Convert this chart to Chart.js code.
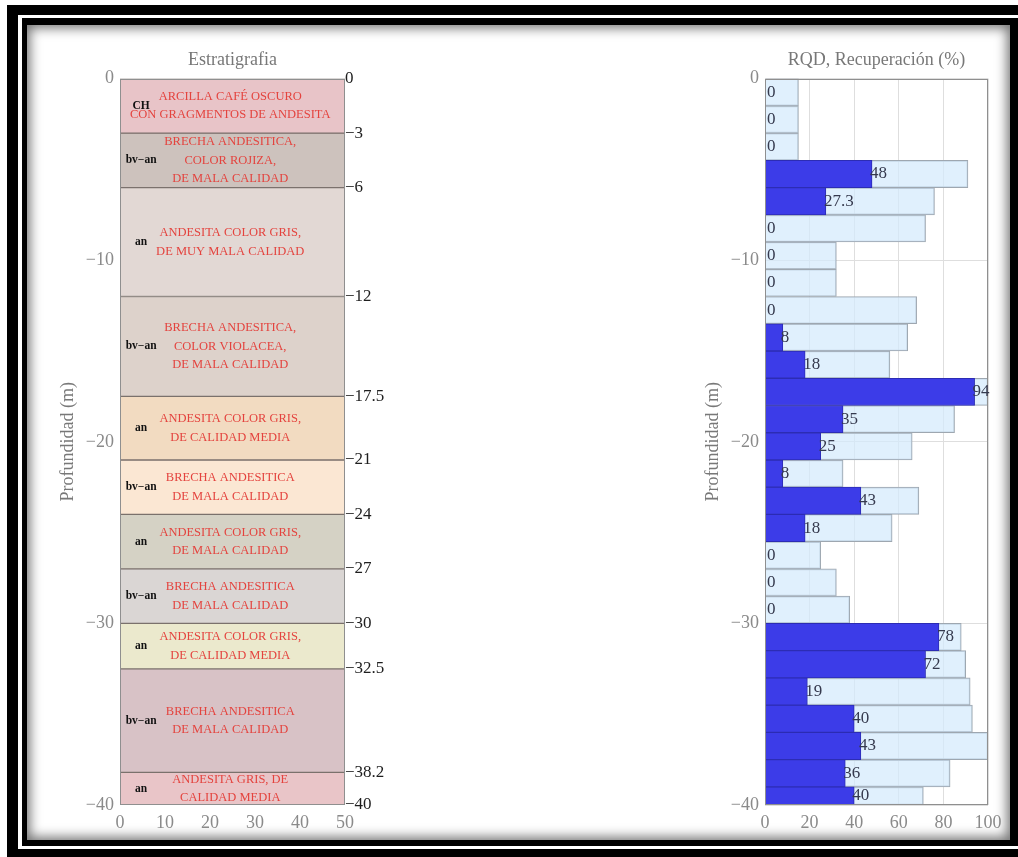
<!DOCTYPE html>
<html>
<head>
<meta charset="utf-8">
<title>Estratigrafia y RQD</title>
<script src="https://cdn.jsdelivr.net/npm/chart.js@4/dist/chart.umd.min.js"></script>
<style>
  html, body { margin: 0; padding: 0; width: 1018px; height: 857px; overflow: hidden; background: #fff; }
  .box { position: absolute; }
  #f1 { left: 7px;  top: 5px;  width: 1011px; height: 852px; background: #000; }
  #f2 { left: 18px; top: 15px; width: 1010px; height: 834px; background: #fff; }
  #f3 { left: 22px; top: 18px; width: 1000px; height: 828px; background: #000; }
  #f4 { left: 27px; top: 25px; width: 983px;  height: 815px; background: #fff;
        box-shadow: inset 0 0 12px 3px rgba(0,0,0,0.55); }
  canvas { position: absolute; left: 0; top: 0; }
</style>
</head>
<body>
<div class="box" id="f1"></div>
<div class="box" id="f2"></div>
<div class="box" id="f3"></div>
<div class="box" id="f4"></div>
<canvas id="strat" width="1018" height="857"></canvas>
<canvas id="rqd" width="1018" height="857"></canvas>
<script>
// ---- Stratigraphic column: layer limits (m), lithology code, description ----
const layerTop    = [0, -3, -6, -12, -17.5, -21, -24, -27, -30, -32.5, -38.2];
const layerBottom = [-3, -6, -12, -17.5, -21, -24, -27, -30, -32.5, -38.2, -40];
const layerCode = ['CH', 'bv\u2212an', 'an', 'bv\u2212an', 'an', 'bv\u2212an', 'an', 'bv\u2212an', 'an', 'bv\u2212an', 'an'];
const layerText = [
  ['ARCILLA CAFÉ OSCURO', 'CON GRAGMENTOS DE ANDESITA'],
  ['BRECHA ANDESITICA,', 'COLOR ROJIZA,', 'DE MALA CALIDAD'],
  ['ANDESITA COLOR GRIS,', 'DE MUY MALA CALIDAD'],
  ['BRECHA ANDESITICA,', 'COLOR VIOLACEA,', 'DE MALA CALIDAD'],
  ['ANDESITA COLOR GRIS,', 'DE CALIDAD MEDIA'],
  ['BRECHA ANDESITICA', 'DE MALA CALIDAD'],
  ['ANDESITA COLOR GRIS,', 'DE MALA CALIDAD'],
  ['BRECHA ANDESITICA', 'DE MALA CALIDAD'],
  ['ANDESITA COLOR GRIS,', 'DE CALIDAD MEDIA'],
  ['BRECHA ANDESITICA', 'DE MALA CALIDAD'],
  ['ANDESITA GRIS, DE', 'CALIDAD MEDIA']
];

// ---- Core runs: depth interval (m), RQD (%) and recovery (%) ----
const runTop    = [0, -1.5, -3, -4.5, -6, -7.5, -9, -10.5, -12, -13.5, -15, -16.5, -18, -19.5,
                   -21, -22.5, -24, -25.5, -27, -28.5, -30, -31.5, -33, -34.5, -36, -37.5, -39];
const runBottom = [-1.5, -3, -4.5, -6, -7.5, -9, -10.5, -12, -13.5, -15, -16.5, -18, -19.5, -21,
                   -22.5, -24, -25.5, -27, -28.5, -30, -31.5, -33, -34.5, -36, -37.5, -39, -40];
const rqd      = [0, 0, 0, 48, 27.3, 0, 0, 0, 0, 8, 18, 94, 35, 25, 8, 43, 18, 0, 0, 0, 78, 72, 19, 40, 43, 36, 40];
const recovery = [15, 15, 15, 91, 76, 72, 32, 32, 68, 64, 56, 100, 85, 66, 35, 69, 57, 25, 32, 38, 88, 90, 92, 93, 100, 83, 71];

// ---- Styling ----
const layerFill = ['#e8c4c8', '#cdc2bd', '#e2d8d4', '#ddd2cb', '#f2dbc1', '#fbe7d3',
                   '#d5d2c5', '#dad6d4', '#ebe9cd', '#d8c2c6', '#e9c5c8'];
const SERIF = "'Liberation Serif', 'Times New Roman', serif";
const TICK_GREY = '#8a8a8a';
const TITLE_GREY = '#787878';

const minusFmt = v => (v < 0 ? '\u2212' + String(-v) : String(v));

// Box round the plotting area
const framePlugin = {
  id: 'frame',
  afterDatasetsDraw(chart) {
    const { ctx, chartArea: a } = chart;
    ctx.save();
    ctx.strokeStyle = '#8f8f8f';
    ctx.lineWidth = 1;
    const l = Math.round(a.left) + 0.5, t = Math.round(a.top) + 0.5;
    const r = Math.round(a.right) - 0.5, b = Math.round(a.bottom) - 0.5;
    ctx.strokeRect(l, t, r - l, b - t);
    ctx.restore();
  }
};

// Lithology code and description written inside each layer
const stratLabels = {
  id: 'stratLabels',
  afterDatasetsDraw(chart) {
    const { ctx, chartArea: a } = chart;
    const xs = chart.scales.x, ys = chart.scales.y;
    const xCode = xs.getPixelForValue(4.7);
    const xText = xs.getPixelForValue(24.5);
    const lh = 18.5;
    ctx.save();
    ctx.beginPath();
    ctx.rect(a.left, a.top, a.right - a.left, a.bottom - a.top);
    ctx.clip();
    ctx.textAlign = 'center';
    ctx.textBaseline = 'middle';
    layerTop.forEach((top, i) => {
      const mid = (ys.getPixelForValue(top) + ys.getPixelForValue(layerBottom[i])) / 2;
      const lines = layerText[i];
      const y0 = mid - (lines.length - 1) * lh / 2;
      ctx.fillStyle = '#e4433e';
      ctx.font = '12.5px ' + SERIF;
      lines.forEach((s, k) => ctx.fillText(s, xText, y0 + k * lh));
      ctx.fillStyle = '#111';
      ctx.font = 'bold 11.5px ' + SERIF;
      ctx.fillText(layerCode[i], xCode, mid);
    });
    ctx.restore();
  }
};

// RQD value written at the end of each run bar
const rqdLabels = {
  id: 'rqdLabels',
  afterDatasetsDraw(chart) {
    const { ctx, chartArea: a } = chart;
    const xs = chart.scales.x, ys = chart.scales.y;
    ctx.save();
    ctx.font = '17px ' + SERIF;
    ctx.fillStyle = '#363a4e';
    ctx.textAlign = 'left';
    ctx.textBaseline = 'middle';
    rqd.forEach((v, i) => {
      const x = Math.max(xs.getPixelForValue(v) - 2, a.left + 2);
      const y = ys.getPixelForValue((runTop[i] + runBottom[i]) / 2);
      ctx.fillText(String(v), x, y);
    });
    ctx.restore();
  }
};

const titleOpts = text => ({
  display: true, text, fullSize: false, color: TITLE_GREY,
  font: { family: SERIF, size: 18, weight: 'normal' },
  padding: { top: 0, bottom: 8 }
});
const tickFont = { family: SERIF, size: 18 };
const axisTitle = padTop => ({
  display: true, text: 'Profundidad (m)', color: TITLE_GREY,
  font: { family: SERIF, size: 18 }, padding: { top: padTop, bottom: 0 }
});

// ---------------- Stratigraphic column ----------------
new Chart(document.getElementById('strat'), {
  type: 'bar',
  data: {
    labels: [''],
    datasets: layerTop.map((top, i) => ({
      label: layerCode[i],
      data: [[layerBottom[i], top]],
      xAxisID: 'xl',
      yAxisID: 'y',
      backgroundColor: layerFill[i],
      borderColor: '#7b716d',
      borderWidth: { top: 1, bottom: 1, left: 0, right: 0 },
      borderSkipped: false,
      grouped: false,
      barPercentage: 1,
      categoryPercentage: 1
    }))
  },
  options: {
    responsive: false,
    animation: false,
    events: [],
    layout: { padding: { left: 40, right: 623, top: 49, bottom: 12 } },
    plugins: {
      legend: { display: false },
      tooltip: { enabled: false },
      title: titleOpts('Estratigrafia')
    },
    scales: {
      xl: { type: 'category', display: false, offset: true },
      x: {
        type: 'linear', position: 'bottom', min: 0, max: 50, offset: false,
        grid: { display: false, offset: false, drawTicks: false }, border: { display: false },
        ticks: { stepSize: 10, color: TICK_GREY, font: tickFont, padding: 7, maxRotation: 0 },
        afterFit: s => { s.height = 40; }
      },
      y: {
        type: 'linear', position: 'left', min: -40, max: 0,
        grid: { display: false, drawTicks: false }, border: { display: false },
        ticks: { stepSize: 10, callback: minusFmt, color: TICK_GREY, font: tickFont, padding: 6 },
        title: axisTitle(17),
        afterFit: s => { s.width = 80; }
      },
      yr: {
        type: 'linear', position: 'right', min: -40, max: 0,
        grid: { display: false, drawTicks: false }, border: { display: false },
        afterBuildTicks: s => { s.ticks = [layerTop[0], ...layerBottom].map(v => ({ value: v })); },
        ticks: { autoSkip: false, callback: minusFmt, color: '#1e1e1e',
                 font: { family: SERIF, size: 17 }, padding: 0 },
        afterFit: s => { s.width = 50; }
      }
    }
  },
  plugins: [framePlugin, stratLabels]
});

// ---------------- RQD and core recovery ----------------
const runThickness = i => ctx => {
  const s = ctx.chart.scales.y;
  return Math.abs(s.getPixelForValue(runBottom[i]) - s.getPixelForValue(runTop[i]));
};
const runMid = i => (runTop[i] + runBottom[i]) / 2;

new Chart(document.getElementById('rqd'), {
  type: 'bar',
  data: {
    datasets: [
      ...rqd.map((v, i) => ({
        label: 'RQD',
        data: [{ x: v, y: runMid(i) }],
        order: 0,
        backgroundColor: '#3c3ce8',
        borderColor: '#2c2cb4',
        borderWidth: 1,
        grouped: false,
        barThickness: runThickness(i)
      })),
      ...recovery.map((v, i) => ({
        label: 'Recuperación',
        data: [{ x: v, y: runMid(i) }],
        order: 1,
        backgroundColor: 'rgba(212,234,252,0.72)',
        borderColor: '#9ea7b0',
        borderWidth: 1,
        grouped: false,
        barThickness: runThickness(i)
      }))
    ]
  },
  options: {
    indexAxis: 'y',
    responsive: false,
    animation: false,
    events: [],
    layout: { padding: { left: 680, right: 0, top: 49, bottom: 12 } },
    plugins: {
      legend: { display: false },
      tooltip: { enabled: false },
      title: titleOpts('RQD, Recuperación (%)')
    },
    scales: {
      x: {
        type: 'linear', position: 'bottom', min: 0, max: 100,
        grid: { color: '#dedede', drawTicks: false }, border: { display: false },
        ticks: { stepSize: 20, color: TICK_GREY, font: tickFont, padding: 7, maxRotation: 0 },
        afterFit: s => { s.height = 40; }
      },
      y: {
        type: 'linear', position: 'left', min: -40, max: 0, offset: false,
        grid: { offset: false, color: '#dedede', drawTicks: false }, border: { display: false },
        ticks: { stepSize: 10, callback: minusFmt, color: TICK_GREY, font: tickFont, padding: 6 },
        title: axisTitle(22),
        afterFit: s => { s.width = 85; }
      },
      yd: {
        type: 'linear', position: 'right', display: true,
        grid: { display: false }, border: { display: false },
        ticks: { display: false },
        afterFit: s => { s.width = 30; }
      }
    }
  },
  plugins: [framePlugin, rqdLabels]
});
</script>
</body>
</html>
